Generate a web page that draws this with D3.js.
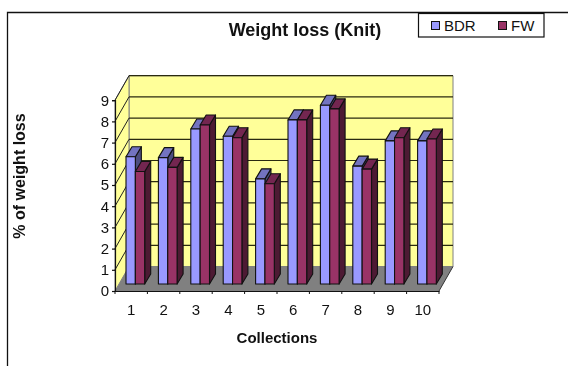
<!DOCTYPE html>
<html>
<head>
<meta charset="utf-8">
<script src="https://cdn.jsdelivr.net/npm/d3@7"></script>
<style>
  body { margin: 0; background: #fff; }
  svg { display: block; filter: blur(0.35px); }
  text { font-family: "Liberation Sans", Arial, sans-serif; fill: #111; }
</style>
</head>
<body>
<svg width="568" height="366"></svg>
<script>
// Data
const categories = ["1", "2", "3", "4", "5", "6", "7", "8", "9", "10"];
const seriesNames = ["BDR", "FW"];
const bdrValues = [6.0, 5.96, 7.31, 6.97, 4.96, 7.74, 8.43, 5.56, 6.75, 6.75];
const fwValues = [5.31, 5.5, 7.5, 6.9, 4.73, 7.74, 8.26, 5.42, 6.9, 6.84];
const yTicks = [0, 1, 2, 3, 4, 5, 6, 7, 8, 9];

const colors = {
    BDR: { front: "#9999ff", top: "#7373c0", side: "#4d4d80" },
    FW: { front: "#993366", top: "#732650", side: "#4d1a33" }
};

const svg = d3.select("svg");

const x = d3.scaleBand().domain(categories).range([115, 439]);
const y = d3.scaleLinear().domain([0, 9]).range([291, 100.2]);
const barX = d3.scaleBand().domain(seriesNames).range([11, 29.7]);

// 3D offsets
const backX = 14, backY = -24.5;
const barBase = -7, barDx = 6, barDy = -10;

const poly = pts => pts.map(p => p.join(",")).join(" ");

// Chart frame (open on the right and bottom like the picture)
svg.append("path")
    .attr("d", "M7.5,366V12.5H568")
    .attr("fill", "none")
    .attr("stroke", "#111")
    .attr("stroke-width", 1.3);

// Walls and floor
const x0 = x.range()[0], x1 = x.range()[1];
const y0 = y(0), yTop = y(9);

svg.append("polygon")
    .attr("points", poly([[x0 + backX, y0 + backY], [x1 + backX, y0 + backY], [x1 + backX, yTop + backY], [x0 + backX, yTop + backY]]))
    .attr("fill", "#ffff99")
    .attr("stroke", "#808080");

svg.append("polygon")
    .attr("points", poly([[x0, y0], [x0 + backX, y0 + backY], [x0 + backX, yTop + backY], [x0, yTop]]))
    .attr("fill", "#ffff99")
    .attr("stroke", "#808080");

svg.append("polygon")
    .attr("points", poly([[x0, y0], [x1, y0], [x1 + backX, y0 + backY], [x0 + backX, y0 + backY]]))
    .attr("fill", "#808080");

// Gridlines
svg.selectAll(".grid-back")
    .data(yTicks.slice(1))
    .enter().append("line")
    .attr("class", "grid-back")
    .attr("x1", x0 + backX)
    .attr("x2", x1 + backX)
    .attr("y1", d => y(d) + backY)
    .attr("y2", d => y(d) + backY)
    .attr("stroke", "#2a2a10")
    .attr("stroke-width", 1.2);

svg.selectAll(".grid-side")
    .data(yTicks.slice(1))
    .enter().append("line")
    .attr("class", "grid-side")
    .attr("x1", x0)
    .attr("x2", x0 + backX)
    .attr("y1", d => y(d))
    .attr("y2", d => y(d) + backY)
    .attr("stroke", "#222");

// Floor front-right edge
svg.append("line")
    .attr("x1", x1).attr("y1", y0)
    .attr("x2", x1 + backX).attr("y2", y0 + backY)
    .attr("stroke", "#333");

// Bars
const barData = [];
categories.forEach((c, i) => {
    barData.push({ cat: c, name: "BDR", value: bdrValues[i] });
    barData.push({ cat: c, name: "FW", value: fwValues[i] });
});

const bars = svg.selectAll(".bar")
    .data(barData)
    .enter().append("g")
    .attr("class", "bar")
    .attr("stroke", "#111")
    .attr("stroke-width", 1.1)
    .attr("stroke-linejoin", "round");

function corners(d) {
    const l = x(d.cat) + barX(d.name);
    const r = l + barX.bandwidth();
    return { l: l, r: r, t: y(d.value) + barBase, b: y(0) + barBase };
}

bars.append("polygon")
    .attr("fill", d => colors[d.name].side)
    .attr("points", d => {
        const c = corners(d);
        return poly([[c.r, c.b], [c.r + barDx, c.b + barDy], [c.r + barDx, c.t + barDy], [c.r, c.t]]);
    });

bars.append("polygon")
    .attr("fill", d => colors[d.name].top)
    .attr("points", d => {
        const c = corners(d);
        return poly([[c.l, c.t], [c.r, c.t], [c.r + barDx, c.t + barDy], [c.l + barDx, c.t + barDy]]);
    });

bars.append("polygon")
    .attr("fill", d => colors[d.name].front)
    .attr("points", d => {
        const c = corners(d);
        return poly([[c.l, c.b], [c.r, c.b], [c.r, c.t], [c.l, c.t]]);
    });

// Axes
const yAxis = svg.append("g")
    .attr("transform", "translate(" + x0 + ",0)")
    .call(d3.axisLeft(y).tickValues(yTicks).tickFormat(d3.format("d")).tickSize(3).tickPadding(3));

const xAxis = svg.append("g")
    .attr("transform", "translate(0," + y0 + ")")
    .call(d3.axisBottom(x).tickSize(0).tickPadding(13));

[yAxis, xAxis].forEach(a => {
    a.selectAll("text")
        .style("font-family", "'Liberation Sans', Arial, sans-serif")
        .style("font-size", "15px")
        .attr("fill", "#111");
    a.selectAll("line, path").attr("stroke", "#111").attr("stroke-width", 1.2);
});

// x ticks sit on the category boundaries
xAxis.selectAll(".bound")
    .data(d3.range(categories.length + 1))
    .enter().append("line")
    .attr("class", "bound")
    .attr("x1", i => x0 + i * x.step())
    .attr("x2", i => x0 + i * x.step())
    .attr("y1", 0)
    .attr("y2", 3)
    .attr("stroke", "#111");

// Titles
svg.append("text")
    .attr("x", 305)
    .attr("y", 36)
    .attr("text-anchor", "middle")
    .style("font-size", "18px")
    .style("font-weight", "bold")
    .text("Weight loss (Knit)");

svg.append("text")
    .attr("x", 277)
    .attr("y", 343)
    .attr("text-anchor", "middle")
    .style("font-size", "15px")
    .style("font-weight", "bold")
    .text("Collections");

svg.append("text")
    .attr("transform", "translate(25,176) rotate(-90)")
    .attr("text-anchor", "middle")
    .style("font-size", "16px")
    .style("font-weight", "bold")
    .text("% of weight loss");

// Legend
const legend = svg.append("g");
legend.append("rect")
    .attr("x", 418.5).attr("y", 13.5)
    .attr("width", 125.5).attr("height", 23.5)
    .attr("fill", "#fff")
    .attr("stroke", "#111")
    .attr("stroke-width", 1.2);

const legendX = d3.scaleOrdinal().domain(seriesNames).range([431, 498]);
const legendItem = legend.selectAll(".item")
    .data(seriesNames)
    .enter().append("g")
    .attr("class", "item");

legendItem.append("rect")
    .attr("x", d => legendX(d) + 0.5)
    .attr("y", 21.5)
    .attr("width", 8)
    .attr("height", 8)
    .attr("fill", d => colors[d].front)
    .attr("stroke", "#111");

legendItem.append("text")
    .attr("x", d => legendX(d) + 13)
    .attr("y", 31)
    .style("font-size", "15px")
    .text(d => d);
</script>
</body>
</html>
